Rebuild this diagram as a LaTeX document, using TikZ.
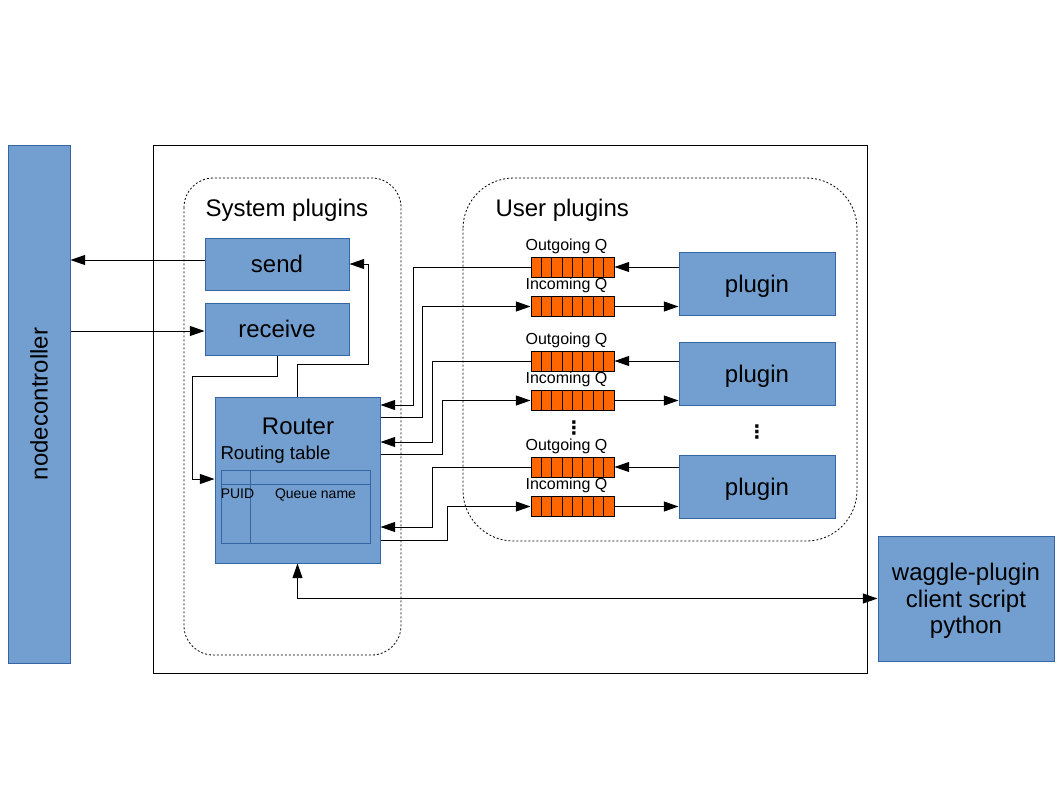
\documentclass[tikz,border=0pt]{standalone}
\usepackage{fontspec}
\setmainfont{Liberation Sans}
\newfontfamily\dotsfont{DejaVu Sans}
\usetikzlibrary{arrows.meta,positioning}
\definecolor{boxblue}{HTML}{729FCF}
\definecolor{boxline}{HTML}{3465A4}
\definecolor{qorange}{HTML}{FF6600}

\begin{document}
\begin{tikzpicture}[x=0.75pt, y=-0.75pt, line width=0.75pt,
		every node/.append style={text depth=0pt},
		>={Triangle[length=11pt, width=7.5pt]},
		box/.style={draw=boxline, fill=boxblue, inner sep=0pt, font=\fontsize{18}{20}\selectfont},
		queue/.style={draw, fill=qorange, minimum width=62.25pt, minimum height=15pt, inner sep=0pt,
			path picture={\foreach \k in {1,...,7}
				\draw ([xshift=\k*7.78pt]path picture bounding box.north west) -- ([xshift=\k*7.78pt]path picture bounding box.south west);}},
		qlabel/.style={inner sep=0pt, font=\fontsize{12}{14}\selectfont},
		title/.style={anchor=west, inner sep=0pt, font=\fontsize{18}{20}\selectfont},
		vdots/.style={inner sep=0pt, font=\dotsfont\bfseries\fontsize{14}{16}\selectfont},
		plugarea/.style={dash pattern=on 1.5pt off 1.5pt, line width=0.6pt, rounded corners=#1}]
		\useasboundingbox (0,0) rectangle (1058,794);

		% frame and the two plugin areas
		\draw (153,145) rectangle (867,673);
		\draw [plugarea=22pt](184,178) rectangle (401,655);
		\draw [plugarea=38pt](463,178) rectangle (857,541);
		\node (syslab)[title] at (205,208) {System plugins};
		\node (userlab)[title] at (495,208) {User plugins};

		\node (ctrl)[box, minimum width=46.5pt, minimum height=388.5pt] at (39,404) {\rotatebox{90}{nodecontroller}};
		\node (send)[box, minimum width=108pt, minimum height=39pt] at (277,264) {send};
		\node (receive)[box, minimum width=108pt, minimum height=39pt] at (277,329) {receive};

		% router with its routing table
		\node (router)[box, minimum width=123.75pt, minimum height=124.5pt] at (297.5,480) {};
		\node (routertitle)[inner sep=0pt, font=\fontsize{18}{20}\selectfont] at (298,426) {Router};
		\node (rtablelab)[anchor=west, inner sep=0pt, font=\fontsize{14}{16}\selectfont] at (220,453) {Routing table};
		\node (rtable)[draw=boxline, minimum width=111.75pt, minimum height=54.75pt, inner sep=0pt] at (295.5,506.5) {};
		\draw [boxline](rtable.west |- 0,484) -- (rtable.east |- 0,484);
		\draw [boxline](250,0 |- rtable.north) -- (250,0 |- rtable.south);
		\node (puid)[inner sep=0pt, font=\fontsize{10.5}{12}\selectfont] at (237.5,494) {PUID};
		\node (qname)[inner sep=0pt, font=\fontsize{10.5}{12}\selectfont] at (315.5,494) {Queue name};

		\node (waggle)[box, align=center, minimum width=132pt, minimum height=93.75pt] at (966,598.5) {waggle-plugin\\client script\\python};

		% user plugins and their queues
		\node (plugin1)[box, minimum width=117pt, minimum height=47.25pt] at (757,283.5) {plugin};
		\node (plugin2)[box, minimum width=117pt, minimum height=47.25pt] at (757,373.5) {plugin};
		\node (plugin3)[box, minimum width=117pt, minimum height=47.25pt] at (757,486.5) {plugin};
		\node (plugdots)[vdots] at (757,432) {⋮};

		\node (oq1)[queue] at (572.5,267) {};
		\node (iq1)[queue] at (572.5,306.5) {};
		\node (oq2)[queue] at (572.5,361) {};
		\node (iq2)[queue] at (572.5,400.5) {};
		\node (oq3)[queue] at (572.5,467) {};
		\node (iq3)[queue] at (572.5,506.5) {};
		\node (qdots)[vdots] at (574,427.5) {⋮};

		\node (oq1lab)[qlabel, above=4.25pt of oq1, xshift=-4.5pt] {Outgoing Q};
		\node (iq1lab)[qlabel, above=4.25pt of iq1, xshift=-4.5pt] {Incoming Q};
		\node (oq2lab)[qlabel, above=4.25pt of oq2, xshift=-4.5pt] {Outgoing Q};
		\node (iq2lab)[qlabel, above=4.25pt of iq2, xshift=-4.5pt] {Incoming Q};
		\node (oq3lab)[qlabel, above=4.25pt of oq3, xshift=-4.5pt] {Outgoing Q};
		\node (iq3lab)[qlabel, above=4.25pt of iq3, xshift=-4.5pt] {Incoming Q};

		% plugins <-> queues
		\draw [->](plugin1.west |- oq1) -- (oq1.east);
		\draw [->](iq1.east) -- (plugin1.west |- iq1);
		\draw [->](plugin2.west |- oq2) -- (oq2.east);
		\draw [->](iq2.east) -- (plugin2.west |- iq2);
		\draw [->](plugin3.west |- oq3) -- (oq3.east);
		\draw [->](iq3.east) -- (plugin3.west |- iq3);

		% queues <-> router
		\draw [->](oq1.west) -| (413,405) -- (router.east |- 0,405);
		\draw [->](router.east |- 0,417) -| (422,306.5) -- (iq1.west);
		\draw [->](oq2.west) -| (432,442) -- (router.east |- 0,442);
		\draw [->](router.east |- 0,454) -| (442,400.5) -- (iq2.west);
		\draw [->](oq3.west) -| (432,527) -- (router.east |- 0,527);
		\draw [->](router.east |- 0,540) -| (447,506.5) -- (iq3.west);

		% system plugins
		\draw [->](router.north) -- ++(0,-32) -| (368,264) -- (send.east);
		\draw [->](receive.south) |- (192,376) |- (router.west |- 0,479);
		\draw [->](send.west |- 0,260) -- (ctrl.east |- 0,260);
		\draw [->](ctrl.east |- 0,331) -- (receive.west |- 0,331);
		\draw [<->](router.south) |- (waggle.west);
	\end{tikzpicture}
\end{document}
